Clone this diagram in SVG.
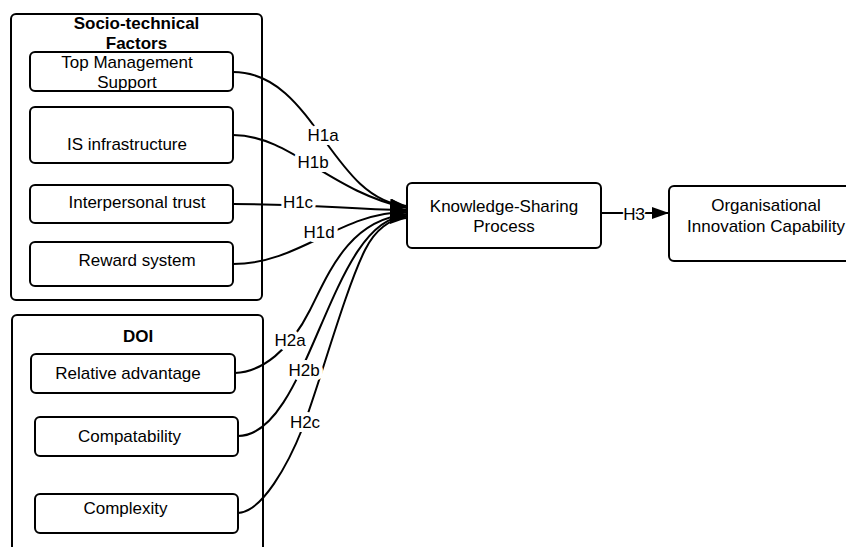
<svg xmlns="http://www.w3.org/2000/svg" width="846" height="547" viewBox="0 0 846 547">
<style>
  .container{fill:none;stroke:#000;stroke-width:2}
  .box{fill:#fff;stroke:#000;stroke-width:2}
  .t{font-family:"Liberation Sans",Arial,sans-serif;font-size:17px;fill:#000;text-anchor:middle}
  .b{font-weight:bold}
  .conn{fill:none;stroke:#000;stroke-width:2}
  .lbl{font-family:"Liberation Sans",Arial,sans-serif;font-size:17px;fill:#000;text-anchor:middle;stroke:#fff;stroke-width:8;stroke-linejoin:round;paint-order:stroke}
  .mid{stroke-width:6}
  .thin{stroke-width:3}
</style>
<defs>
  <marker id="arr" markerUnits="userSpaceOnUse" viewBox="0 0 17 12" markerWidth="17" markerHeight="12" refX="17" refY="6" orient="auto">
    <path d="M0,0 L17,6 L0,12 z" fill="#000"/>
  </marker>
</defs>
<rect width="846" height="547" fill="#fff"/>

<g id="socio-technical-factors">
  <rect class="container" x="11" y="14" width="251" height="286" rx="5"/>
  <text class="t b" x="136.5" y="29">Socio-technical</text>
  <text class="t b" x="136.5" y="49">Factors</text>
</g>
<g id="doi">
  <rect class="container" x="12" y="315" width="251" height="260" rx="5"/>
  <text class="t b" x="138" y="342">DOI</text>
</g>

<g id="top-management-support">
  <rect class="box" x="30" y="52" width="203" height="39" rx="5"/>
  <text class="t" x="127" y="68">Top Management</text>
  <text class="t" x="127" y="88">Support</text>
</g>
<g id="is-infrastructure">
  <rect class="box" x="30" y="107" width="203" height="56" rx="5"/>
  <text class="t" x="127" y="150">IS infrastructure</text>
</g>
<g id="interpersonal-trust">
  <rect class="box" x="30" y="185" width="203" height="38" rx="5"/>
  <text class="t" x="137" y="208">Interpersonal trust</text>
</g>
<g id="reward-system">
  <rect class="box" x="30" y="242" width="203" height="44" rx="5"/>
  <text class="t" x="137" y="266">Reward system</text>
</g>
<g id="relative-advantage">
  <rect class="box" x="31" y="354" width="204" height="39" rx="5"/>
  <text class="t" x="128" y="379">Relative advantage</text>
</g>
<g id="compatability">
  <rect class="box" x="35" y="417" width="203" height="39" rx="5"/>
  <text class="t" x="129.5" y="442">Compatability</text>
</g>
<g id="complexity">
  <rect class="box" x="35" y="494" width="203" height="39" rx="5"/>
  <text class="t" x="125.5" y="514">Complexity</text>
</g>
<g id="knowledge-sharing-process">
  <rect class="box" x="407" y="183" width="194" height="65" rx="5"/>
  <text class="t" x="504" y="212">Knowledge-Sharing</text>
  <text class="t" x="504" y="232">Process</text>
</g>
<g id="organisational-innovation-capability">
  <rect class="box" x="669" y="186" width="200" height="75" rx="5"/>
  <text class="t" x="766" y="211">Organisational</text>
  <text class="t" x="766" y="232">Innovation Capability</text>
</g>

<g id="connectors">
  <path class="conn" d="M233,72 C315,72 330,200 407,206" marker-end="url(#arr)"/>
  <path class="conn" d="M233,135 C290,135 330,192 407,208" marker-end="url(#arr)"/>
  <path class="conn" d="M233,204 C320,204 340,209 407,210" marker-end="url(#arr)"/>
  <path class="conn" d="M233,264 C300,264 340,212 407,212" marker-end="url(#arr)"/>
  <path class="conn" d="M235,373 C262,372 290,350 310,310 S350,220 407,214" marker-end="url(#arr)"/>
  <path class="conn" d="M238,436 C310,436 330,216 407,216" marker-end="url(#arr)"/>
  <path class="conn" d="M238,513 C262,512 288,465 303,427 S345,290 365,250 C375,230 390,218 407,218" marker-end="url(#arr)"/>
  <path class="conn" d="M601,213 L669,213" marker-end="url(#arr)"/>
  <text class="lbl" x="323" y="141">H1a</text>
  <text class="lbl" x="313" y="168">H1b</text>
  <text class="lbl mid" x="298" y="208">H1c</text>
  <text class="lbl" x="319" y="238">H1d</text>
  <text class="lbl" x="290" y="346">H2a</text>
  <text class="lbl" x="304" y="376">H2b</text>
  <text class="lbl" x="305" y="428">H2c</text>
  <text class="lbl thin" x="634" y="220">H3</text>
</g>
</svg>
